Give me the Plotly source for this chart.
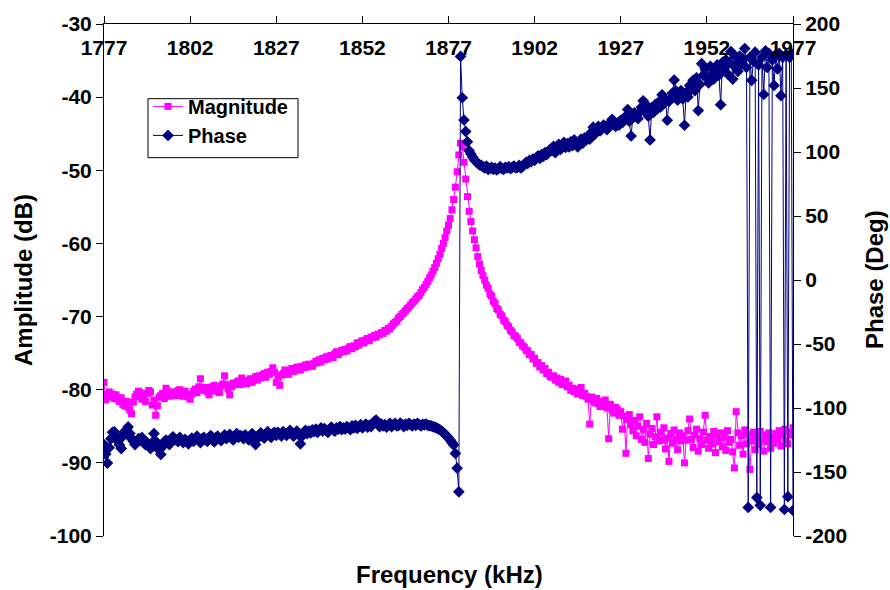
import numpy as np
import plotly.graph_objects as go

# ---------------- data ----------------
freq_start = 1777.0
freq_step = 0.5

magnitude_db = [
    -79.0, -81.4, -80.6, -80.3, -81.0, -80.6, -81.2, -80.7, -81.3, -81.6, -81.1, -82.0, -82.2, -81.6, -82.4, -82.8, -83.3, -81.7, -81.0, -80.6,
    -80.2, -80.4, -81.3, -80.8, -81.6, -80.5, -80.1, -80.3, -82.1, -81.4, -83.5, -82.2, -81.0, -80.8, -80.5, -81.2, -79.8, -80.2, -80.9, -80.4,
    -80.7, -80.3, -80.8, -80.1, -80.0, -80.5, -80.9, -80.2, -80.7, -81.0, -81.3, -80.6, -80.2, -79.9, -80.4, -79.6, -78.5, -80.0, -80.1, -79.7,
    -80.3, -80.7, -80.0, -79.6, -79.4, -80.2, -79.8, -80.4, -79.5, -79.2, -78.1, -79.3, -79.9, -80.7, -79.6, -79.1, -79.3, -79.0, -78.8, -79.3,
    -78.4, -79.0, -78.7, -79.2, -78.9, -78.5, -79.0, -78.6, -78.2, -78.7, -78.1, -78.4, -78.0, -77.8, -78.3, -77.6, -77.9, -77.5, -77.0, -77.6,
    -79.0, -78.2, -79.4, -78.0, -77.8, -77.3, -77.6, -77.9, -77.4, -77.1, -77.5, -77.2, -76.9, -77.3, -77.3, -76.8, -77.0, -76.6, -76.9, -76.5,
    -76.7, -76.8, -76.4, -76.1, -76.3, -75.9, -76.2, -75.7, -75.9, -75.5, -75.8, -75.4, -75.3, -75.6, -75.1, -74.8, -75.2, -74.9, -74.6, -74.8,
    -74.5, -74.7, -74.3, -74.1, -74.4, -74.0, -74.1, -73.6, -73.9, -73.5, -73.3, -73.6, -73.2, -73.0, -73.3, -72.8, -72.9, -72.6, -72.8, -72.4,
    -72.5, -72.2, -72.3, -71.9, -72.0, -71.6, -71.7, -71.3, -71.0, -70.8, -70.6, -70.2, -70.0, -69.7, -69.5, -69.2, -68.9, -68.7, -68.4, -68.1,
    -67.9, -67.6, -67.3, -67.1, -66.7, -66.3, -66.0, -65.6, -65.2, -64.7, -64.3, -63.8, -63.3, -62.7, -62.1, -61.5, -60.7, -60.0, -59.2, -58.3,
    -57.5, -56.6, -55.4, -54.0, -52.3, -50.2, -47.9, -46.3, -46.8, -48.9, -51.2, -53.6, -55.6, -57.0, -58.3, -59.5, -60.6, -61.8, -62.8, -63.7,
    -64.4, -65.0, -65.7, -66.1, -66.9, -67.2, -67.9, -68.2, -68.9, -69.1, -69.7, -69.9, -70.5, -70.7, -71.2, -71.4, -71.9, -72.1, -72.6, -72.7,
    -73.0, -73.5, -73.6, -74.0, -74.2, -74.6, -74.7, -75.2, -75.2, -75.8, -75.7, -76.4, -76.3, -76.9, -76.7, -77.3, -77.1, -77.8, -77.6, -78.2,
    -78.3, -78.1, -78.7, -78.4, -79.0, -78.6, -79.3, -79.1, -78.8, -79.6, -79.4, -80.1, -79.8, -80.3, -79.9, -80.6, -80.4, -79.7, -80.8, -80.5,
    -80.9, -81.3, -84.7, -81.0, -81.5, -81.8, -81.2, -81.9, -82.3, -81.6, -82.2, -81.4, -82.5, -86.7, -82.0, -82.8, -83.2, -82.4, -82.7, -83.5,
    -83.0, -85.4, -83.6, -88.7, -84.1, -83.4, -84.8, -85.6, -84.2, -86.3, -85.0, -83.7, -86.8, -85.4, -87.2, -84.6, -89.4, -86.1, -85.3, -87.5,
    -86.4, -83.7, -87.0, -85.8, -86.9, -85.2, -88.1, -86.6, -89.8, -86.0, -87.3, -85.5, -86.8, -88.2, -85.9, -87.0, -86.3, -90.0, -86.9, -85.6,
    -84.0, -86.8, -87.9, -86.2, -85.4, -88.4, -86.7, -87.5, -85.8, -83.5, -86.9, -88.0, -86.4, -87.4, -85.7, -88.6, -86.2, -87.1, -85.9, -87.8,
    -86.5, -88.3, -85.6, -87.2, -86.8, -88.5, -90.7, -83.0, -85.9, -87.6, -86.3, -88.8, -85.5, -87.4, -86.1, -90.9, -87.0, -85.8, -88.2, -86.6,
    -87.5, -85.7, -86.9, -88.4, -86.2, -87.1, -85.9, -88.0, -86.5, -87.3, -86.0, -86.8, -85.6, -87.7, -86.3, -85.4, -86.9, -87.4, -85.8, -86.2,
    -85.2,
]

phase_deg = [
    -128.6, -136, -143, -131, -124, -119, -118.6, -121, -126, -129, -131.7, -122, -118.6, -117, -114.8, -120, -124, -126, -128.6, -127,
    -124, -125.5, -123, -126, -128.6, -127, -129.5, -131.7, -127, -120, -126, -130, -133, -136.3, -130, -126.3, -125, -127, -128.6, -126,
    -122.5, -124, -125, -126.3, -123, -125, -127, -124.5, -126, -128, -125, -123.5, -126, -124, -122, -125.5, -127, -124, -123, -125,
    -126, -123, -121.5, -124.5, -126.5, -123, -122, -124, -125.5, -123, -121, -124, -122.5, -120.5, -123.5, -125, -122, -120, -123, -121.5,
    -122, -124, -121, -123, -125, -122.5, -120, -123.5, -128.6, -124, -121, -119.5, -122, -123.5, -120.5, -118.5, -121, -123, -120, -119,
    -121.5, -119, -120.5, -122, -118.5, -120, -121.5, -119, -117.5, -120, -122, -119.5, -118, -121, -128, -122, -119, -117.5, -120, -118,
    -119.5, -117, -118.5, -116.5, -119, -117.5, -115.5, -118, -116, -117.5, -119, -116.5, -115, -117, -118, -115.5, -116.5, -114.5, -117, -115.5,
    -116.5, -114.5, -115.5, -117, -114, -115.5, -113.5, -116, -114.5, -113, -115.5, -114, -112.5, -115, -113.5, -114.5, -112, -110.5, -109.4, -113,
    -114.5, -112.5, -114, -113, -115, -113.5, -112, -114.5, -113, -112, -114, -113.5, -111.8, -113, -114.5, -112.5, -113.5, -112, -113, -114,
    -112.5, -113.5, -112, -113, -114, -112.8, -113.2, -112.5, -113.5, -113.8, -114, -114.5, -115, -115.5, -116.3, -117, -118, -119.2, -120.5, -122,
    -123.5, -125, -127, -129, -135.5, -147, -165.5, 174.7, 142.4, 125, 116, 108, 101, 98.5, 96, 94, 92.5, 91, 90, 89.5,
    88.5, 87.5, 89, 86.5, 87, 88, 86.5, 87.5, 86, 87, 88.5, 87, 86.5, 88, 87.5, 88.5, 87, 88, 89, 87.5,
    88, 89.5, 87.5, 88.5, 90.5, 92, 91, 93.5, 92.5, 94.5, 93.5, 95.5, 97, 95, 98, 96.5, 99.5, 98, 100.5, 102,
    101, 104.5, 99.5, 103, 106, 102, 105.5, 107.5, 103.5, 106.5, 104, 108, 105, 109.5, 106.5, 104, 108.5, 110, 107, 111,
    109.5, 112, 110, 115.5, 119.4, 114, 117, 120, 116.5, 118, 121, 119.4, 117.5, 122, 120.5, 125.5, 123, 120, 122.5, 121,
    124.8, 123, 126.5, 128, 133.2, 124, 112.5, 127, 130.5, 128.5, 126, 131, 135, 140, 132, 136.5, 128, 109.4, 134.7, 131,
    137, 133.5, 139, 135, 144.7, 138, 141, 124.8, 139.5, 142, 146, 156.2, 147.8, 140.5, 144, 148, 141.5, 120.9, 146.5, 143,
    152, 149, 156, 148, 158, 132.4, 153, 169, 160, 165, 158, 154, 167, 161, 157, 164, 168, 160, 137, 170,
    165, 172, 161, 170, 178.5, 157, 167, 174, 163, 175, 169, 172, 180.8, 166, -177.7, 174, 156, 171, 178, -170,
    168, -176, 174, 145, 179, 166, 177, -177.7, 172, 152, 176, 165, 177, 144, 174, -179.3, 176, -169.3, 174, 177,
    -180,
]

freq_khz = freq_start + freq_step * np.arange(len(magnitude_db))

freq_ticks = [1777, 1802, 1827, 1852, 1877, 1902, 1927, 1952, 1977]
freq_tick_labels = ["1777", "1802", "1827", "1852", "1877", "1902", "1927", "1952", "1977"]
amp_ticks = [-100, -90, -80, -70, -60, -50, -40, -30]
amp_tick_labels = ["-100", "-90", "-80", "-70", "-60", "-50", "-40", "-30"]
phase_ticks = [-200, -150, -100, -50, 0, 50, 100, 150, 200]
phase_tick_labels = ["-200", "-150", "-100", "-50", "0", "50", "100", "150", "200"]

# ---------------- figure ----------------
FONT = "Liberation Sans, Arial, Helvetica, sans-serif"
tickfont = dict(family=FONT, size=21, color="black", weight="bold")
titlefont = dict(family=FONT, size=24, color="black", weight="bold")

W, H = 890, 590
ML, MR, MT, MB = 104, 97, 15, 54
PW, PH = W - ML - MR, H - MT - MB


def px_to_paper_x(px):
    return (px - ML) / PW


def px_to_paper_y(py):
    return 1 - (py - MT) / PH


fig = go.Figure()
fig.add_trace(go.Scatter(
    x=freq_khz, y=magnitude_db, name="Magnitude", mode="lines+markers",
    line=dict(color="#FF00FF", width=1),
    marker=dict(symbol="square", size=7, color="#FF00FF"),
    yaxis="y",
))
fig.add_trace(go.Scatter(
    x=freq_khz, y=phase_deg, name="Phase", mode="lines+markers",
    line=dict(color="#000080", width=1),
    marker=dict(symbol="diamond", size=9, color="#000080"),
    yaxis="y2",
))

common = dict(showgrid=False, zeroline=False, tickcolor="black", tickwidth=1)

fig.update_layout(
    width=W, height=H,
    margin=dict(l=ML, r=MR, t=MT, b=MB),
    paper_bgcolor="white", plot_bgcolor="white",
    showlegend=True,
    legend=dict(
        x=px_to_paper_x(148), y=px_to_paper_y(79), xanchor="left", yanchor="top",
        bgcolor="rgba(0,0,0,0)", borderwidth=0,
        font=dict(family=FONT, size=20, color="black", weight="bold"),
        tracegroupgap=0,
    ),
    shapes=[
        dict(type="rect", xref="paper", yref="paper",
             x0=px_to_paper_x(148), x1=px_to_paper_x(298),
             y0=px_to_paper_y(151), y1=px_to_paper_y(91),
             line=dict(color="black", width=1), fillcolor="white",
             layer="above"),
    ],
    xaxis=dict(
        range=[1777, 1977], side="top",
        tickvals=freq_ticks, ticktext=freq_tick_labels,
        ticks="outside", ticklen=7,
        ticklabelposition="inside", ticklabeloverflow="allow",
        ticklabelstandoff=18,
        showline=True, linecolor="black", linewidth=1,
        tickfont=tickfont, **common,
    ),
    xaxis2=dict(
        range=[1777, 1977], side="top", overlaying="x", anchor="y",
        tickvals=freq_ticks, ticks="inside", ticklen=7,
        showticklabels=False, showline=False, **common,
    ),
    yaxis=dict(
        range=[-100, -30],
        tickvals=amp_ticks, ticktext=amp_tick_labels,
        ticks="outside", ticklen=7,
        showline=True, linecolor="black", linewidth=1,
        tickfont=tickfont, **common,
    ),
    yaxis2=dict(
        range=[-200, 200], overlaying="y", side="right",
        tickvals=phase_ticks, ticktext=phase_tick_labels,
        ticks="outside", ticklen=7,
        showline=True, linecolor="black", linewidth=1,
        tickfont=tickfont, **common,
    ),
    yaxis3=dict(
        range=[-100, -30], overlaying="y", side="left", anchor="x",
        tickvals=amp_ticks, ticks="inside", ticklen=7,
        showticklabels=False, showline=False, **common,
    ),
    yaxis4=dict(
        range=[-200, 200], overlaying="y", side="right", anchor="x",
        tickvals=phase_ticks, ticks="inside", ticklen=7,
        showticklabels=False, showline=False, **common,
    ),
    annotations=[
        dict(text="Amplitude (dB)", xref="paper", yref="paper",
             x=px_to_paper_x(23), y=0.5, xanchor="center", yanchor="middle",
             textangle=-90, showarrow=False, font=titlefont),
        dict(text="Phase (Deg)", xref="paper", yref="paper",
             x=px_to_paper_x(874), y=0.5, xanchor="center", yanchor="middle",
             textangle=-90, showarrow=False, font=titlefont),
        dict(text="Frequency (kHz)", xref="paper", yref="paper",
             x=px_to_paper_x(450), y=px_to_paper_y(575), xanchor="center", yanchor="middle",
             showarrow=False, font=titlefont),
    ],
)

fig.write_html("out.html")
